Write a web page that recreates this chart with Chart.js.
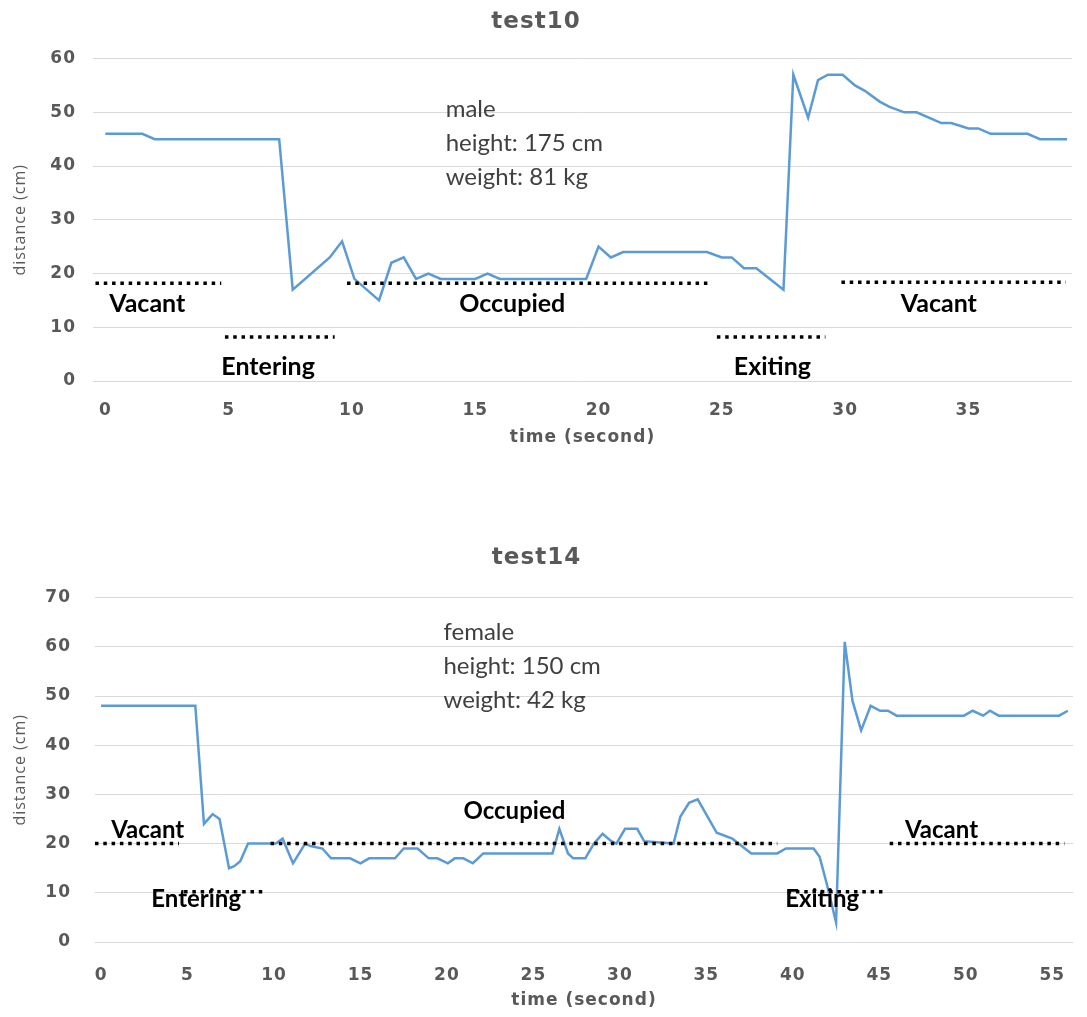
<!DOCTYPE html>
<html>
<head>
<meta charset="utf-8">
<script src="https://cdn.jsdelivr.net/npm/chart.js@4.4.1/dist/chart.umd.min.js"></script>
<style>
  body { margin: 0; background: #fff; }
  canvas { display: block; }
  #c2 { margin-top: 50px; }
</style>
</head>
<body>
<canvas id="c1" width="1087" height="470"></canvas>
<canvas id="c2" width="1087" height="497"></canvas>
<script>
// test10 (male)
var time10 = [0, 1.5, 2, 7.05, 7.6, 9.1, 9.6, 10.1, 11.1, 11.6, 12.1, 12.6, 13.1, 13.6, 15, 15.5, 16, 19.5, 20, 20.5,
  21, 24.4, 25, 25.4, 25.9, 26.4, 27.5, 27.9, 28.5, 28.9, 29.3, 29.9, 30.4, 30.8, 31.4, 31.8, 32.4, 32.9, 33.9, 34.3,
  35, 35.4, 35.9, 37.4, 37.9, 39];
var dist10 = [46, 46, 45, 45, 17, 23, 26, 19, 15, 22, 23, 19, 20, 19, 19, 20, 19, 19, 25, 23,
  24, 24, 23, 23, 21, 21, 17, 57, 49, 56, 57, 57, 55, 54, 52, 51, 50, 50, 48, 48,
  47, 47, 46, 46, 45, 45];
var xTicks10 = [0, 5, 10, 15, 20, 25, 30, 35];
var yTicks10 = [0, 10, 20, 30, 40, 50, 60];

// test14 (female)
var time14 = [0, 5.45, 5.95, 6.45, 6.85, 7.4, 7.7, 8.05, 8.5, 10.1, 10.5, 11.1, 11.8, 12.1, 12.8, 13.3, 14.4, 15, 15.5, 17,
  17.5, 18.3, 18.95, 19.45, 20.05, 20.45, 20.95, 21.5, 22.1, 26.1, 26.5, 27, 27.3, 28, 28.5, 29, 29.5, 29.8, 30.3, 31,
  31.4, 33.1, 33.5, 34, 34.5, 35.6, 36.5, 37.6, 39.1, 39.6, 41.2, 41.55, 41.95, 42.5, 43, 43.45, 43.95, 44.5, 45.05, 45.5,
  46, 49.9, 50.4, 51, 51.4, 51.9, 55.4, 55.9];
var dist14 = [48, 48, 24, 26, 25, 15, 15.4, 16.4, 20, 20, 21, 16, 20, 19.5, 19, 17, 17, 16, 17, 17,
  19, 19, 17, 17, 16, 17, 17, 16, 18, 18, 23, 18, 17, 17, 20, 22, 20.5, 20, 23, 23,
  20.5, 20, 25.5, 28.3, 29, 22.2, 21, 18, 18, 19, 19, 17.3, 12, 4, 61, 49, 43, 48, 47, 47,
  46, 46, 47, 46, 47, 46, 46, 47];
var xTicks14 = [0, 5, 10, 15, 20, 25, 30, 35, 40, 45, 50, 55];
var yTicks14 = [0, 10, 20, 30, 40, 50, 60, 70];

// phase markers (dotted lines + labels)
var phaseNames = ["Vacant", "Entering", "Occupied", "Exiting", "Vacant"];
var phaseFrom10 = [-0.4, 4.85, 9.8, 24.8, 29.85];
var phaseTo10 = [4.7, 9.3, 24.6, 29.2, 38.95];
var phaseLevel10 = [18.2, 8.2, 18.2, 8.2, 18.4];
var phaseTextX10 = [1.7, 6.6, 16.5, 27.05, 33.8];
var phaseTextY10 = [14.3, 2.6, 14.3, 2.6, 14.3];

var phaseFrom14 = [-0.35, 4.8, 9.8, 39.7, 45.6];
var phaseTo14 = [4.5, 9.4, 39.1, 45.3, 55.7];
var phaseLevel14 = [20, 10.2, 20, 10.2, 20];
var phaseTextX14 = [2.7, 5.5, 23.9, 41.7, 48.6];
var phaseTextY14 = [22.8, 8.6, 26.5, 8.6, 22.8];

var info10 = ["male", "height: 175 cm", "weight: 81 kg"];
var infoAt10 = [13.8, 50.5];
var info14 = ["female", "height: 150 cm", "weight: 42 kg"];
var infoAt14 = [19.8, 62.9];

var grey = '#595959';

// a little extra spacing for the axis text, the original font is wide
var spacingPlugin = {
  id: 'spacing',
  beforeUpdate: function(chart) { chart.ctx.letterSpacing = '1px'; },
  beforeDraw: function(chart) { chart.ctx.letterSpacing = '1px'; }
};

var labelPlugin = {
  id: 'phaseLabels',
  afterDatasetsDraw: function(chart, args, opts) {
    var ctx = chart.ctx, sx = chart.scales.x, sy = chart.scales.y;
    ctx.save();
    ctx.letterSpacing = '0px';
    ctx.font = 'bold ' + opts.size + 'px Lato';
    ctx.fillStyle = '#000';
    ctx.textAlign = 'center';
    ctx.textBaseline = 'middle';
    phaseNames.forEach(function(n, i) {
      ctx.fillText(n, sx.getPixelForValue(opts.tx[i]), sy.getPixelForValue(opts.ty[i]));
    });
    ctx.font = '24px Lato';
    ctx.fillStyle = '#404040';
    ctx.textAlign = 'left';
    var px = sx.getPixelForValue(opts.at[0]), py = sy.getPixelForValue(opts.at[1]);
    opts.lines.forEach(function(l, i) {
      ctx.fillText(l, px, py + i * 34);
    });
    ctx.restore();
  }
};

function makeChart(id, o) {
  var datasets = [{
    data: o.t.map(function(t, i) { return {x: t, y: o.d[i]}; }),
    borderColor: '#5b9bd5',
    borderWidth: 2.5,
    pointRadius: 0,
    tension: 0,
    order: 2
  }];
  o.pf.forEach(function(f, i) {
    datasets.push({
      data: [{x: f, y: o.pl[i]}, {x: o.pt[i], y: o.pl[i]}],
      borderColor: '#000',
      borderWidth: 3.5,
      borderDash: [3.5, 4.8],
      pointRadius: 0,
      order: 1
    });
  });
  return new Chart(document.getElementById(id), {
    type: 'line',
    data: { datasets: datasets },
    plugins: [spacingPlugin, labelPlugin],
    options: {
      responsive: false,
      animation: false,
      layout: { padding: { left: 0, right: o.padRight, top: 0, bottom: 0 } },
      plugins: {
        legend: { display: false },
        tooltip: { enabled: false },
        title: {
          display: true,
          text: o.title,
          color: grey,
          font: { family: 'DejaVu Sans', size: 23, weight: 'bold' },
          padding: { top: o.titleTop, bottom: o.titleBottom }
        },
        phaseLabels: { tx: o.tx, ty: o.ty, at: o.at, lines: o.lines, size: o.labelSize }
      },
      scales: {
        x: {
          type: 'linear',
          min: o.xmin,
          max: o.xmax,
          grid: { display: false },
          border: { display: false },
          afterBuildTicks: function(s) { s.ticks = o.xt.map(function(v) { return {value: v}; }); },
          afterFit: function(s) { s.height = o.xh; },
          ticks: { color: grey, font: { family: 'DejaVu Sans', size: 17, weight: 'bold' }, padding: o.xtp, maxRotation: 0 },
          title: {
            display: true, text: 'time (second)', color: grey,
            font: { family: 'DejaVu Sans', size: 17, weight: 'bold' },
            padding: { top: 0, bottom: o.xtitlePad }
          }
        },
        y: {
          min: 0,
          max: o.ymax,
          grid: { color: '#d9d9d9', drawTicks: false },
          border: { display: false },
          afterBuildTicks: function(s) { s.ticks = o.yt.map(function(v) { return {value: v}; }); },
          afterFit: function(s) { s.width = o.yw; },
          ticks: { color: grey, font: { family: 'DejaVu Sans', size: 17, weight: 'bold' }, padding: o.ytp },
          title: {
            display: true, text: 'distance (cm)', color: grey,
            font: { family: 'Open Sans', size: 16 },
            padding: { top: 11, bottom: 0 }
          }
        }
      }
    }
  });
}

makeChart('c1', {
  t: time10, d: dist10, title: 'test10',
  pf: phaseFrom10, pt: phaseTo10, pl: phaseLevel10, tx: phaseTextX10, ty: phaseTextY10,
  at: infoAt10, lines: info10, xt: xTicks10, yt: yTicks10, labelSize: 25,
  xmin: -0.5, xmax: 39.2, ymax: 60,
  padRight: 15, titleTop: 8, titleBottom: 23,
  xh: 89, xtp: 11, xtitlePad: 22, yw: 93, ytp: 17
});

makeChart('c2', {
  t: time14, d: dist14, title: 'test14',
  pf: phaseFrom14, pt: phaseTo14, pl: phaseLevel14, tx: phaseTextX14, ty: phaseTextY14,
  at: infoAt14, lines: info14, xt: xTicks14, yt: yTicks14, labelSize: 24,
  xmin: -0.35, xmax: 56.2, ymax: 70,
  padRight: 14, titleTop: 24, titleBottom: 26,
  xh: 75, xtp: 15, xtitlePad: 6, yw: 95, ytp: 24
});
</script>
</body>
</html>
